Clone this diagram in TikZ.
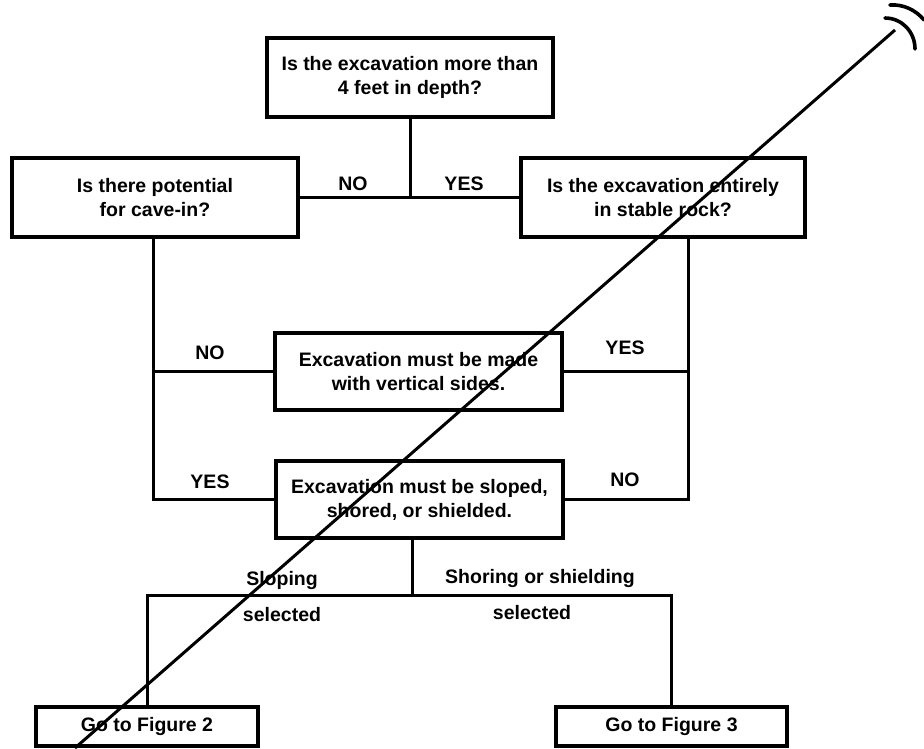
\documentclass[tikz,border=0pt]{standalone}
\usepackage{fontspec}
\setmainfont{Liberation Sans}
\begin{document}
\begin{tikzpicture}[x=1pt,y=-1pt,
  every node/.style={font=\fontsize{19.5}{24}\selectfont\bfseries},
  fbox/.style={draw, line width=3.2pt, align=center, inner sep=0pt},
  conn/.style={line width=3pt},
  lbl/.style={inner sep=0pt}]
\useasboundingbox (0,0) rectangle (924,748);
% boxes
\node[fbox, minimum width=286pt, minimum height=79pt] (top) at (410,77.5) {\raisebox{-3pt}{\begin{tabular}{@{}c@{}}Is the excavation more than\\4 feet in depth?\end{tabular}}};
\node[fbox, minimum width=286pt, minimum height=79pt] (left) at (155,197.5) {Is there potential\\for cave-in?};
\node[fbox, minimum width=284pt, minimum height=79pt] (right) at (663,197.5) {Is the excavation entirely\\in stable rock?};
\node[fbox, minimum width=287pt, minimum height=77pt] (vert) at (418.5,371.5) {Excavation must be made\\with vertical sides.};
\node[fbox, minimum width=287pt, minimum height=77pt] (slope) at (419.5,499.5) {Excavation must be sloped,\\shored, or shielded.};
\node[fbox, minimum width=222pt, minimum height=39pt] (g2) at (147,726.5) {Go to Figure 2};
\node[fbox, minimum width=231pt, minimum height=39pt] (g3) at (671.5,726.5) {Go to Figure 3};
% helper coordinates
\coordinate (cl) at (153,0);
\coordinate (cr) at (688,0);
\coordinate (cm) at (412,0);
\coordinate (h) at (0,595);
% connectors
\draw[conn] (top.south) -- (top.south |- left.east);
\draw[conn] (left.east) -- (right.west);
\draw[conn] (left.south -| cl) |- (slope.west);
\draw[conn] (cl |- vert.west) -- (vert.west);
\draw[conn] (right.south -| cr) |- (slope.east);
\draw[conn] (cr |- vert.east) -- (vert.east);
\draw[conn] (slope.south -| cm) -- (cm |- h);
\draw[conn] (g2.north) -- (g2.north |- h) -- (g3.north |- h) -- (g3.north);
% labels
\node[lbl] (l1) at (353,184) {NO};
\node[lbl] (l2) at (464,184) {YES};
\node[lbl] (l3) at (210,353) {NO};
\node[lbl] (l4) at (625,348) {YES};
\node[lbl] (l5) at (210,482) {YES};
\node[lbl] (l6) at (625,480) {NO};
\node[lbl] (l7) at (282,580) {Sloping};
\node[lbl] (l8) at (282,615) {selected};
\node[lbl] (l9) at (540,578) {Shoring or shielding};
\node[lbl] (l10) at (532,613) {selected};
% diagonal strike line and marks
\draw[line width=3pt] (75,748) -- (895,30);
\draw[line width=3.6pt, line cap=round] (885,18) .. controls (902,18) and (915,32) .. (915,49);
\draw[line width=3.6pt, line cap=round] (890,5) .. controls (903,4) and (916,10) .. (924,20);
\end{tikzpicture}
\end{document}
